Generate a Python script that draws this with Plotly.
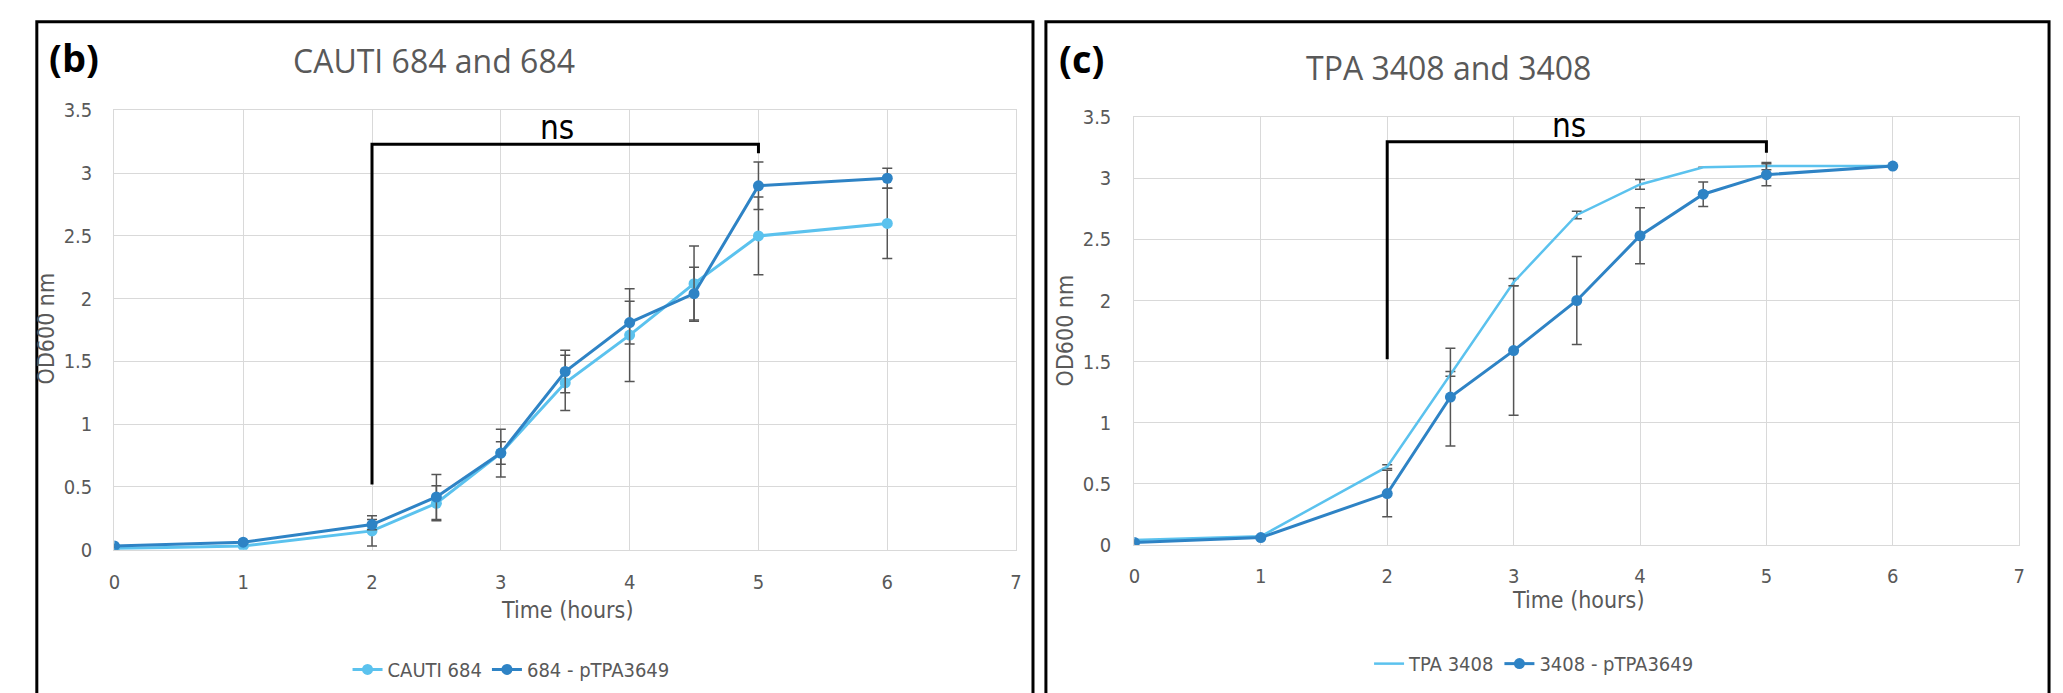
import plotly.graph_objects as go

# ---------------- data ----------------
times = [0, 1, 2, 2.5, 3, 3.5, 4, 4.5, 5, 6]

# panel (b)
cauti684 = [0.01, 0.03, 0.15, 0.37, 0.77, 1.33, 1.71, 2.12, 2.50, 2.60]
cauti684_err = [0.01, 0.01, 0.12, 0.14, 0.19, 0.22, 0.37, 0.30, 0.31, 0.28]
p684 = [0.03, 0.06, 0.20, 0.42, 0.77, 1.42, 1.81, 2.04, 2.90, 2.96]
p684_err = [0.01, 0.01, 0.04, 0.18, 0.09, 0.17, 0.17, 0.21, 0.19, 0.08]

# panel (c)
tpa3408 = [0.04, 0.07, 0.64, 1.40, 2.15, 2.70, 2.95, 3.09, 3.10, 3.10]
tpa3408_err = [0.0, 0.0, 0.015, 0.02, 0.03, 0.03, 0.04, 0.0, 0.03, 0.0]
p3408 = [0.02, 0.06, 0.42, 1.21, 1.59, 2.00, 2.53, 2.87, 3.03, 3.10]
p3408_err = [0.01, 0.01, 0.19, 0.40, 0.53, 0.36, 0.23, 0.10, 0.09, 0.0]

series_names_b = ["CAUTI 684", "684 - pTPA3649"]
series_names_c = ["TPA 3408", "3408 - pTPA3649"]
titles = ["CAUTI 684 and 684", "TPA 3408 and 3408"]
panel_labels = ["(b)", "(c)"]
x_ticks = [0, 1, 2, 3, 4, 5, 6, 7]

# significance brackets: (x_start, x_end, y_low_left, y_top, y_low_right)
bracket_b = (2, 5, 0.52, 3.23, 3.16)
bracket_c = (2, 5, 1.52, 3.30, 3.21)
sig_label = "ns"
sig_x = 3.44

# ---------------- style ----------------
W, H = 2063, 693
LIGHT = "#5BC2EE"
DARK = "#2E83C5"
ERR = "#555555"
GREY_TXT = "#595959"
GRID = "#D9D9D9"
FONT = "Liberation Sans Narrow, DejaVu Sans Condensed, Liberation Sans, sans-serif"
FONT_REG = "Open Sans, Liberation Sans, sans-serif"

def px_x(p):
    return p / W

def px_y(p):
    return 1 - p / H

fig = go.Figure()

def err(arr):
    return dict(type="data", array=arr, visible=True, color=ERR, thickness=1.5, width=5)

# panel b traces
fig.add_trace(go.Scatter(x=times, y=cauti684, name=series_names_b[0], mode="lines+markers",
                         line=dict(color=LIGHT, width=3), marker=dict(color=LIGHT, size=11),
                         error_y=err(cauti684_err), xaxis="x", yaxis="y", legend="legend"))
fig.add_trace(go.Scatter(x=times, y=p684, name=series_names_b[1], mode="lines+markers",
                         line=dict(color=DARK, width=3), marker=dict(color=DARK, size=11),
                         error_y=err(p684_err), xaxis="x", yaxis="y", legend="legend"))
# panel c traces
fig.add_trace(go.Scatter(x=times, y=tpa3408, name=series_names_c[0], mode="lines",
                         line=dict(color=LIGHT, width=2.5),
                         error_y=err(tpa3408_err), xaxis="x2", yaxis="y2", legend="legend2"))
fig.add_trace(go.Scatter(x=times, y=p3408, name=series_names_c[1], mode="lines+markers",
                         line=dict(color=DARK, width=3), marker=dict(color=DARK, size=11),
                         error_y=err(p3408_err), xaxis="x2", yaxis="y2", legend="legend2"))

axis_common = dict(showgrid=True, gridcolor=GRID, gridwidth=1.2, zeroline=False,
                   showline=True, linecolor=GRID, linewidth=1.2, mirror=True,
                   ticks="", tickfont=dict(family=FONT, size=20, color=GREY_TXT))

# plot areas (pixels)
L_plot = dict(x0=109, x1=1016, y_top=102, y_bot=557)
R_plot = dict(x0=1135, x1=2025, y_top=109, y_bot=552)

fig.update_layout(
    width=W, height=H, margin=dict(l=0, r=0, t=0, b=0),
    paper_bgcolor="white", plot_bgcolor="white",
    xaxis=dict(domain=[px_x(L_plot["x0"]), px_x(L_plot["x1"])], range=[0, 7], tickvals=x_ticks,
               anchor="y", ticklabelstandoff=14, **axis_common),
    yaxis=dict(domain=[px_y(L_plot["y_bot"]), px_y(L_plot["y_top"])], range=[0, 3.5], dtick=0.5,
               anchor="x", ticklabelstandoff=17, **axis_common),
    xaxis2=dict(domain=[px_x(R_plot["x0"]), px_x(R_plot["x1"])], range=[0, 7], tickvals=x_ticks,
                anchor="y2", ticklabelstandoff=13, **axis_common),
    yaxis2=dict(domain=[px_y(R_plot["y_bot"]), px_y(R_plot["y_top"])], range=[0, 3.5], dtick=0.5,
                anchor="x2", ticklabelstandoff=18, **axis_common),
    legend=dict(orientation="h", x=px_x(508), y=px_y(681), xanchor="center", yanchor="middle",
                font=dict(family=FONT, size=20, color=GREY_TXT), bgcolor="rgba(0,0,0,0)",
                itemwidth=30, tracegroupgap=0),
    legend2=dict(orientation="h", x=px_x(1537), y=px_y(675), xanchor="center", yanchor="middle",
                 font=dict(family=FONT, size=20, color=GREY_TXT), bgcolor="rgba(0,0,0,0)",
                 itemwidth=30, tracegroupgap=0),
)

shapes = []
# panel borders
for x0, x1 in [(31, 1033), (1046, 2055)]:
    shapes.append(dict(type="rect", xref="paper", yref="paper", x0=px_x(x0), x1=px_x(x1),
                       y0=px_y(720), y1=px_y(10), line=dict(color="black", width=3)))
# brackets
for (xa, xb, yl, yt, yr), xr, yrf in [(bracket_b, "x", "y"), (bracket_c, "x2", "y2")]:
    shapes.append(dict(type="path", xref=xr, yref=yrf,
                       path=f"M {xa},{yl} L {xa},{yt} L {xb},{yt} L {xb},{yr}",
                       line=dict(color="black", width=3)))
fig.update_layout(shapes=shapes)

ann = []
# panel labels and titles
for lab, cx, cy in zip(panel_labels, [68, 1082], [47, 48]):
    ann.append(dict(text=f"<b>{lab}</b>", x=px_x(cx), y=px_y(cy), xref="paper", yref="paper",
                    showarrow=False, xanchor="center", yanchor="middle",
                    font=dict(family=FONT_REG, size=38, color="black")))
for t, cx, cy in zip(titles, [431, 1451], [50, 58]):
    ann.append(dict(text=t, x=px_x(cx), y=px_y(cy), xref="paper", yref="paper",
                    showarrow=False, xanchor="center", yanchor="middle",
                    font=dict(family=FONT_REG, size=32, color=GREY_TXT)))
# axis titles
for cx, cy in [(564, 619), (1581, 609)]:
    ann.append(dict(text="Time (hours)", x=px_x(cx), y=px_y(cy), xref="paper", yref="paper",
                    showarrow=False, xanchor="center", yanchor="middle",
                    font=dict(family=FONT, size=23, color=GREY_TXT)))
for cx, cy in [(40, 328), (1065, 330)]:
    ann.append(dict(text="OD600 nm", x=px_x(cx), y=px_y(cy), xref="paper", yref="paper",
                    showarrow=False, xanchor="center", yanchor="middle", textangle=-90,
                    font=dict(family=FONT, size=23, color=GREY_TXT)))
# significance labels
for (xa, xb, yl, yt, yr), xr, yrf in [(bracket_b, "x", "y"), (bracket_c, "x2", "y2")]:
    ann.append(dict(text=sig_label, x=sig_x, y=yt, xref=xr, yref=yrf, showarrow=False,
                    xanchor="center", yanchor="bottom", yshift=-5,
                    font=dict(family=FONT, size=33, color="black")))
fig.update_layout(annotations=ann)

fig.write_html("out.html",
               config={"displayModeBar": False},
               post_script="document.body.style.margin='0px';document.body.style.padding='0px';"
                           "document.documentElement.style.overflow='hidden';")
